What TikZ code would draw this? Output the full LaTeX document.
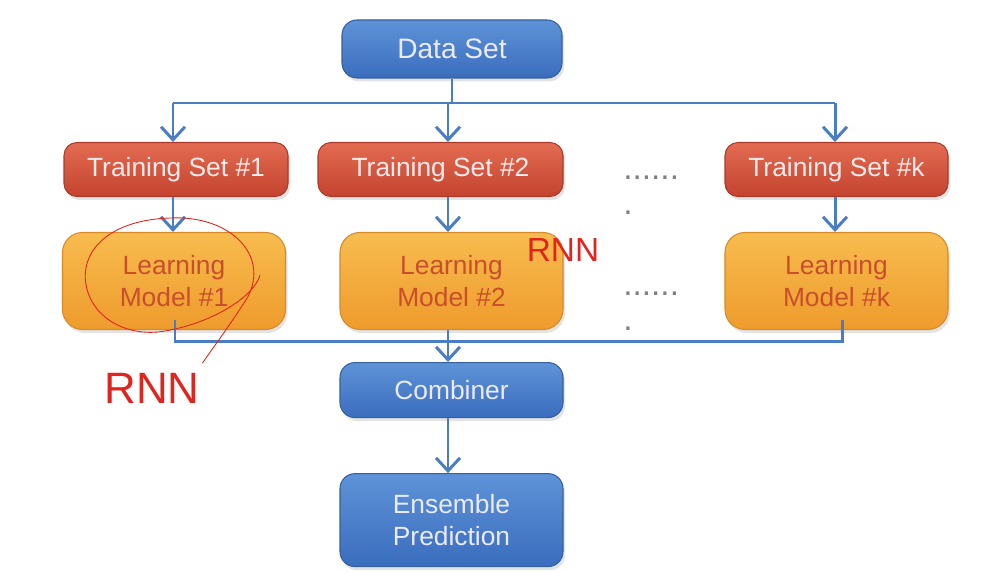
\documentclass[tikz,border=0pt]{standalone}
\usepackage{fontspec}
\setmainfont{Liberation Sans}
\usetikzlibrary{arrows.meta, positioning, shadows}
\definecolor{linkblue}{HTML}{4A7EC2}
\definecolor{bluetop}{HTML}{5E93D8}
\definecolor{bluebot}{HTML}{3A6DBD}
\definecolor{blueedge}{HTML}{35609F}
\definecolor{redtop}{HTML}{E36C52}
\definecolor{redbot}{HTML}{C4432F}
\definecolor{rededge}{HTML}{A93A29}
\definecolor{orangetop}{HTML}{F8BC4E}
\definecolor{orangebot}{HTML}{EE9B2C}
\definecolor{orangeedge}{HTML}{D68A2A}
\definecolor{modeltext}{HTML}{C84E2C}
\definecolor{inkred}{HTML}{E0241E}
\tikzset{
  box/.style={rectangle, draw, line width=0.6pt, align=center, inner sep=2pt,
    drop shadow={opacity=0.22, shadow xshift=0.4mm, shadow yshift=-0.7mm},
    font=\fontsize{15}{18}\selectfont},
  setbox/.style={box, rounded corners=3mm, top color=bluetop, bottom color=bluebot,
    draw=blueedge, text=white!92!blue},
  trainbox/.style={box, rounded corners=2.6mm, top color=redtop, bottom color=redbot,
    draw=rededge, text=white!92!red, minimum height=1.08cm},
  modelbox/.style={box, rounded corners=4mm, top color=orangetop, bottom color=orangebot,
    draw=orangeedge, text=modeltext, minimum width=4.46cm, minimum height=1.94cm},
  dotsrow/.style={align=left, text=gray, inner sep=0pt,
    font=\fontsize{19}{20}\selectfont},
  ink/.style={text=inkred, inner sep=0pt},
  link/.style={draw=linkblue, line width=1.7pt},
  line/.style={link, -{Straight Barb[length=2.6mm, width=4.8mm]}}
}
\begin{document}
\begin{tikzpicture}
    \useasboundingbox (0,0) rectangle (19.8,-11.44);
    % source
    \node[setbox, minimum width=4.4cm, minimum height=1.16cm,
      font=\fontsize{16}{19}\selectfont] (data) at (9.04,-0.98) {Data Set};
    % training sets
    \node[trainbox, minimum width=4.48cm] (ts1) at (3.52,-3.39) {Training Set \#1};
    \node[trainbox, minimum width=4.9cm] (ts2) at (8.81,-3.39) {Training Set \#2};
    \node[trainbox, minimum width=4.46cm] (tsk) at (16.73,-3.39) {Training Set \#k};
    % learning models
    \node[modelbox] (lm1) at (3.48,-5.62) {Learning\\Model \#1};
    \node[modelbox] (lm2) at (9.03,-5.62) {Learning\\Model \#2};
    \node[modelbox] (lmk) at (16.73,-5.62) {Learning\\Model \#k};
    % dots between columns
    \node[dotsrow, anchor=base west] (dots1) at (12.46,-4.30) {......\\.};
    \node[dotsrow, anchor=base west] (dots2) at (12.46,-6.62) {......\\.};
    % output side
    \node[setbox, minimum width=4.46cm, minimum height=1.1cm,
      below=0.64cm of lm2] (comb) {Combiner};
    \node[setbox, minimum width=4.46cm, minimum height=1.86cm,
      below=1.1cm of comb] (ens) {Ensemble\\Prediction};
    % bus lines
    \coordinate (c1) at (3.46,-2.06);
    \coordinate (c2) at (8.96,-2.06);
    \coordinate (c3) at (16.70,-2.06);
    \coordinate (b1) at (3.50,-6.83);
    \coordinate (b3) at (16.84,-6.83);
    \draw[link] (data.south) -- (data.south |- c2);
    \draw[link] (c1) -- (c3);
    \draw[line] (c1) -- (c1 |- ts1.north);
    \draw[line] (c2) -- (c2 |- ts2.north);
    \draw[line] (c3) -- (c3 |- tsk.north);
    \draw[line] (ts1.south -| c1) -- (lm1.north -| c1);
    \draw[line] (ts2.south -| c2) -- (lm2.north -| c2);
    \draw[line] (tsk.south -| c3) -- (lmk.north -| c3);
    \draw[link] ([yshift=2mm]lm1.south -| b1) -- (b1) -- (b3) -- ([yshift=2mm]lmk.south -| b3);
    \draw[line] (lm2.south -| c2) -- (comb.north -| c2);
    \draw[line] (comb.south -| c2) -- (ens.north -| c2);
    % handwritten notes
    \draw[inkred, line width=0.5pt] (4.95,-5.95) .. controls (5.4,-5.1) and (4.6,-4.3) .. (3.4,-4.36)
      .. controls (2.2,-4.4) and (1.6,-5.0) .. (1.72,-5.7)
      .. controls (1.85,-6.4) and (2.6,-6.75) .. (3.3,-6.62)
      .. controls (4.3,-6.45) and (5.1,-5.9) .. (5.2,-5.5);
    \draw[inkred, line width=0.5pt] (4.95,-5.95) .. controls (4.6,-6.5) and (4.3,-6.9) .. (4.05,-7.26);
    \node[ink, font=\fontsize{25}{25}\selectfont] (rnn1) at (3.04,-7.76) {RNN};
    \node[ink, font=\fontsize{19}{19}\selectfont] (rnn2) at (11.26,-5.0) {RNN};
\end{tikzpicture}
\end{document}
